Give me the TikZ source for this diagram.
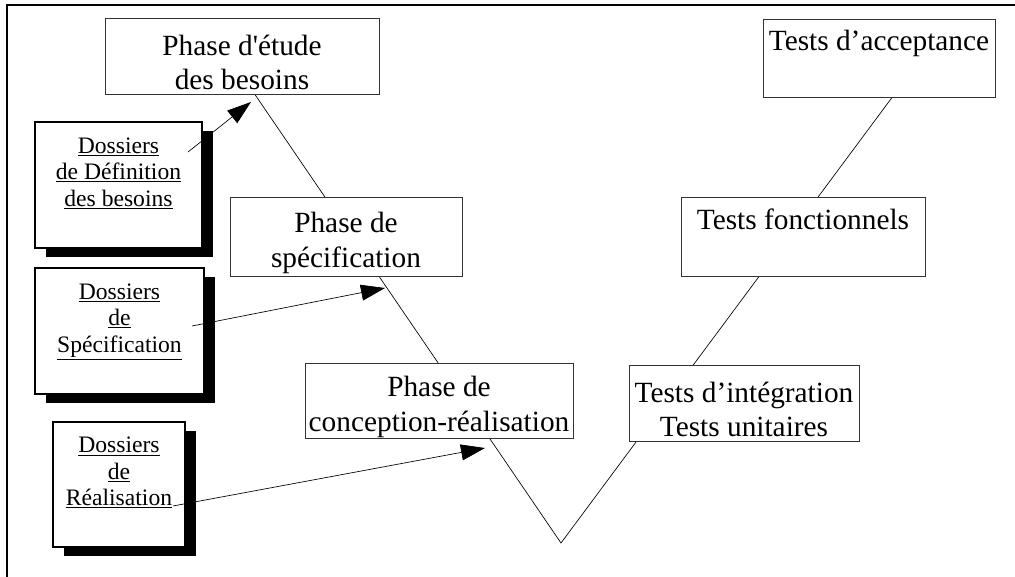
\documentclass[tikz,border=0pt]{standalone}
\usepackage{fontspec}
\setmainfont{Liberation Serif}
\usetikzlibrary{arrows.meta,shadows,backgrounds,calc}
\newcommand{\hautligne}{\rule{0pt}{25pt}}
\tikzset{
  phase/.style={draw=black!80, line width=0.7pt, fill=white, align=center,
    inner sep=0pt, font=\fontsize{22}{26}\selectfont},
  dossier/.style={draw, line width=1.4pt, fill=white, align=center,
    inner sep=0pt, font=\fontsize{17.7}{19.8}\selectfont,
    drop shadow={shadow xshift=8pt, shadow yshift=-6.5pt, fill=black, opacity=1}},
  fleche/.style={-{Triangle[length=18pt,width=12pt]}, line width=0.5pt},
  vline/.style={line width=0.5pt}
}
\begin{document}
\begin{tikzpicture}[x=0.75pt,y=-0.75pt]
 \useasboundingbox (0,0) rectangle (1015,577);
 % cadre
 \draw[line width=1.9pt] (7,578) -- (7,5) -- (1016,5);
 % phases
 \node[phase, minimum width=205.5pt, minimum height=57pt] (etude) at (242,56)
   {\hautligne Phase d\textquotesingle étude\\des besoins};
 \node[phase, minimum width=174pt, minimum height=59.25pt] (spec) at (346,236.5)
   {\hautligne Phase de\\spécification};
 \node[phase, minimum width=201pt, minimum height=56.25pt] (concep) at (439,400.5)
   {\hautligne Phase de\\conception-réalisation};
 \node[phase, minimum width=172.5pt, minimum height=57pt] (integ) at (744,403)
   {\hautligne Tests d’intégration\\Tests unitaires};
 \node[phase, minimum width=183pt, minimum height=59.25pt] (fonct) at (803,236.5)
   {Tests fonctionnels\\\mbox{}};
 \node[phase, minimum width=174pt, minimum height=58.5pt] (accept) at (879,58)
   {Tests d’acceptance\\\mbox{}};
 % dossiers
 \node[dossier, minimum width=125.25pt, minimum height=94.5pt] (defin) at (118.5,185)
   {\underline{Dossiers}\\\underline{de Définition}\\\underline{des besoins}\\\mbox{}};
 \node[dossier, minimum width=126.75pt, minimum height=94.5pt] (specdos) at (119.5,331)
   {\underline{Dossiers}\\\underline{de}\\\underline{Spécification}\\\mbox{}};
 \node[dossier, minimum width=99pt, minimum height=93.75pt] (realdos) at (119,484.5)
   {\underline{Dossiers}\\\underline{de}\\\underline{Réalisation}\\\mbox{}};
 % le V
 \begin{scope}[on background layer]
   \coordinate (vhaut) at ($(etude.south west)!0.547!(etude.south east)$);
   \coordinate (vfin) at ($(accept.south west)!0.556!(accept.south east)$);
   \coordinate (vbas) at (561,543);
   \draw[vline] (vhaut) -- (vbas) -- (vfin);
 \end{scope}
 % fleches
 \coordinate (s1) at (188,152);
 \coordinate (t1) at (251,102);
 \coordinate (s2) at (192,326);
 \coordinate (t2) at (385,288);
 \coordinate (s3) at (173,506);
 \coordinate (t3) at (485,448);
 \draw[fleche] (s1) -- (t1);
 \draw[fleche] (s2) -- (t2);
 \draw[fleche] (s3) -- (t3);
\end{tikzpicture}
\end{document}
